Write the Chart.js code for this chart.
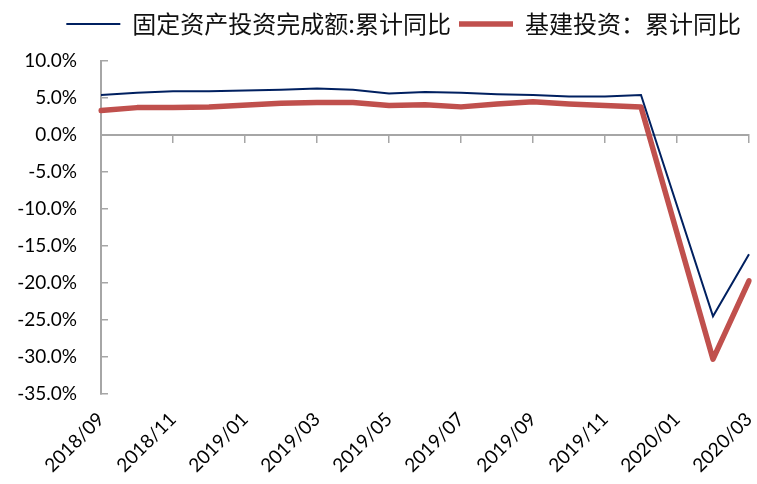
<!DOCTYPE html>
<html>
<head>
<meta charset="utf-8">
<script src="https://cdn.jsdelivr.net/npm/chart.js@4/dist/chart.umd.min.js"></script>
<style>
  html, body { margin: 0; padding: 0; background: #fff; }
  #wrap { width: 757px; height: 484px; }
</style>
</head>
<body>
<div id="wrap"><canvas id="faiChart" width="757" height="484"></canvas></div>
<script>
// monthly categories; January has no separate release (Jan-Feb combined)
const months = [
  '2018/09', '2018/10', '2018/11', '2018/12',
  '2019/01', '2019/02', '2019/03', '2019/04', '2019/05', '2019/06',
  '2019/07', '2019/08', '2019/09', '2019/10', '2019/11', '2019/12',
  '2020/01', '2020/02', '2020/03'
];
// cumulative YoY, %
const faiYoY = [5.4, 5.7, 5.9, 5.9, null, 6.1, 6.3, 6.1, 5.6, 5.8, 5.7, 5.5, 5.4, 5.2, 5.2, 5.4, null, -24.5, -16.1];
const infraYoY = [3.3, 3.7, 3.7, 3.8, null, 4.3, 4.4, 4.4, 4.0, 4.1, 3.8, 4.2, 4.5, 4.2, 4.0, 3.8, null, -30.3, -19.7];
const seriesNames = ['固定资产投资完成额:累计同比', '基建投资：累计同比'];
const yMin = -35;
const yMax = 10;
const yStep = 5;

const axisGray = '#a6a6a6';
const numFont = { family: 'Lato, "Open Sans", sans-serif', size: 19 };

// extra gap under the legend
const legendGap = {
  id: 'legendGap',
  beforeInit(chart) {
    const originalFit = chart.legend.fit;
    chart.legend.fit = function fit() {
      originalFit.bind(chart.legend)();
      this.height += 15;
    };
  }
};

const ctx = document.getElementById('faiChart').getContext('2d');
new Chart(ctx, {
  type: 'line',
  data: {
    labels: months,
    datasets: [
      {
        label: seriesNames[0],
        data: faiYoY,
        borderColor: '#002060',
        backgroundColor: '#002060',
        borderWidth: 2,
        pointRadius: 0,
        spanGaps: true,
        tension: 0
      },
      {
        label: seriesNames[1],
        data: infraYoY,
        borderColor: '#c0504d',
        backgroundColor: '#c0504d',
        borderWidth: 5.5,
        pointRadius: 0,
        spanGaps: true,
        tension: 0,
        borderJoinStyle: 'round',
        borderCapStyle: 'round'
      }
    ]
  },
  options: {
    responsive: false,
    animation: false,
    layout: { padding: { top: 4, right: 8, left: 0, bottom: 0 } },
    plugins: {
      legend: {
        align: 'end',
        labels: {
          usePointStyle: true,
          pointStyle: 'line',
          pointStyleWidth: 54,
          padding: 8,
          color: '#111',
          font: { family: '"Noto Sans CJK SC", sans-serif', size: 24 }
        }
      },
      tooltip: { enabled: false }
    },
    scales: {
      x: {
        type: 'category',
        position: 'bottom',
        grid: { display: false, drawTicks: true, tickLength: 0 },
        border: { display: false },
        ticks: {
          autoSkip: false,
          minRotation: 45,
          maxRotation: 45,
          padding: 14,
          color: '#000',
          font: { family: 'Lato, "Open Sans", sans-serif', size: 19 },
          callback: (v, i) => (i % 2 === 0 ? months[i] : null)
        },
        afterFit: s => {
          s.height = 90;
          s.paddingRight = 0;
        }
      },
      // axis line drawn through zero, tick marks every two months
      xZero: {
        type: 'category',
        position: { y: 0 },
        grid: {
          drawOnChartArea: false,
          tickLength: 7,
          lineWidth: 1.5,
          color: c => (c.index % 2 === 0 ? axisGray : 'rgba(0,0,0,0)')
        },
        border: { color: axisGray, width: 2 },
        ticks: { display: false, autoSkip: false },
        afterFit: s => { s.paddingRight = 0; s.paddingLeft = 0; }
      },
      y: {
        min: yMin,
        max: yMax,
        ticks: {
          stepSize: yStep,
          padding: 31,
          color: '#000',
          font: numFont,
          callback: v => v.toFixed(1) + '%'
        },
        grid: { drawOnChartArea: false, tickLength: -7, lineWidth: 1.5, color: axisGray },
        border: { color: axisGray, width: 2 },
        afterFit: s => { s.width = 101; }
      }
    }
  },
  plugins: [legendGap]
});
</script>
</body>
</html>
